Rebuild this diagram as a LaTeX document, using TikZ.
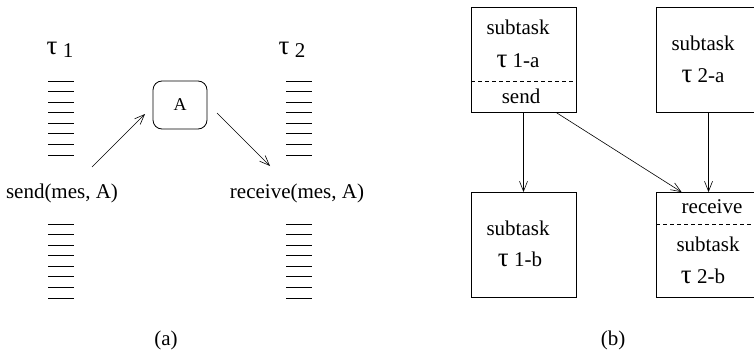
\documentclass[tikz,border=0pt]{standalone}
\usepackage{fontspec}
\setmainfont{Liberation Serif}
\usetikzlibrary{arrows.meta,calc}
\newcommand{\tauch}{{\fontsize{27}{27}\selectfont τ}}
\begin{document}
\begin{tikzpicture}[x=1pt,y=-1pt,
  lbl/.style={font=\fontsize{21}{24}\selectfont, inner sep=0pt, anchor=base},
  taskbox/.style={draw, line width=0.8pt, minimum width=105pt, minimum height=105pt, inner sep=0pt},
  hatch/.style={line width=0.8pt},
  conn/.style={line width=0.6pt, -{Straight Barb[length=10pt,width=8pt,line width=0.6pt]}},
  divider/.style={dashed, line width=0.6pt, dash pattern=on 4pt off 3pt}]
\useasboundingbox (0,0) rectangle (754,353);

% ---------- (a) ----------
\node[lbl] (t1) at (60,55) {\tauch\ \raisebox{-2pt}{1}};
\node[lbl] (t2) at (292,55) {\tauch\ \raisebox{-2pt}{2}};
\foreach \i in {0,...,7} {
  \draw[hatch] (48,{81+\i*10.57}) -- (74,{81+\i*10.57});
  \draw[hatch] (48,{224+\i*10.57}) -- (74,{224+\i*10.57});
  \draw[hatch] (286,{81+\i*10.57}) -- (312,{81+\i*10.57});
  \draw[hatch] (286,{224+\i*10.57}) -- (312,{224+\i*10.57});
}
\node[draw, line width=0.8pt, rounded corners=9pt, minimum width=54pt, minimum height=48pt, inner sep=0pt,
      font=\fontsize{18}{20}\selectfont] (A) at (180,105) {A};
\node[lbl] (send) at (62,198) {send(mes, A)};
\node[lbl] (recv) at (297,198) {receive(mes, A)};
\coordinate (s1) at (92,167);
\coordinate (s2) at (145,114);
\coordinate (r1) at (217,113);
\coordinate (r2) at (270,166);
\draw[conn] (s1) -- (s2);
\draw[conn] (r1) -- (r2);
\node[lbl] (capa) at (166,345) {(a)};

% ---------- (b) ----------
\node[taskbox] (b1a) at (523.5,59.5) {};
\node[taskbox] (b2a) at (708.5,59.5) {};
\node[taskbox] (b1b) at (523.5,245) {};
\node[taskbox] (b2b) at (708.5,245) {};
\draw[divider] (471,81) -- (576,81);
\draw[divider] (656,224) -- (761,224);

\node[lbl] (b1a1) at (518,35) {subtask};
\node[lbl] (b1a2) at (518,67) {\tauch\ 1-a};
\node[lbl] (b1a3) at (521,103) {send};
\node[lbl] (b2a1) at (703,50) {subtask};
\node[lbl] (b2a2) at (703,82) {\tauch\ 2-a};
\node[lbl] (b1b1) at (518,235) {subtask};
\node[lbl] (b1b2) at (520,266) {\tauch\ 1-b};
\node[lbl] (b2b1) at (712,213) {receive};
\node[lbl] (b2b2) at (708,251) {subtask};
\node[lbl] (b2b3) at (703,283) {\tauch\ 2-b};

\draw[conn] (b1a.south) -- (b1b.north);
\draw[conn] ($(b1a.south)+(32.5,0)$) -- ($(b2b.north west)+(26,0)$);
\draw[conn] (b2a.south) -- (b2b.north);
\node[lbl] (capb) at (613,345) {(b)};
\end{tikzpicture}
\end{document}
